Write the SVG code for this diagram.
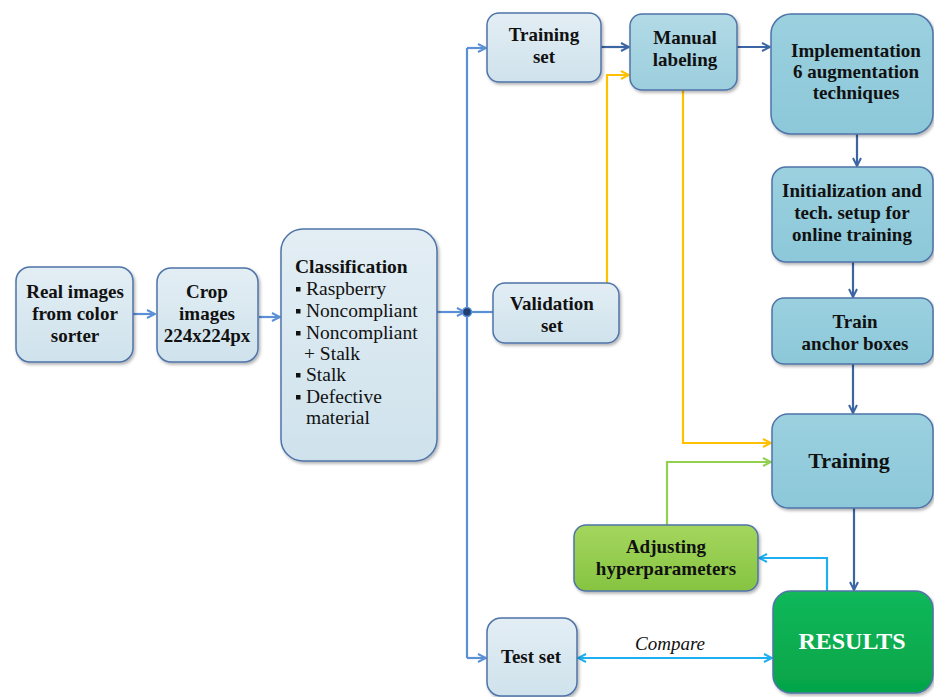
<svg xmlns="http://www.w3.org/2000/svg" width="934" height="697" viewBox="0 0 934 697">
<defs>
<linearGradient id="gLight" x1="0" y1="0" x2="0" y2="1"><stop offset="0" stop-color="#E3EEF4"/><stop offset="1" stop-color="#CFE2EC"/></linearGradient>
<linearGradient id="gMid" x1="0" y1="0" x2="0" y2="1"><stop offset="0" stop-color="#B2DAE6"/><stop offset="1" stop-color="#9CCEDD"/></linearGradient>
<linearGradient id="gTeal" x1="0" y1="0" x2="0" y2="1"><stop offset="0" stop-color="#9BD0DF"/><stop offset="1" stop-color="#8CC8D9"/></linearGradient>
<linearGradient id="gGreen" x1="0" y1="0" x2="0" y2="1"><stop offset="0" stop-color="#A4D65E"/><stop offset="1" stop-color="#86C441"/></linearGradient>
<linearGradient id="gRes" x1="0" y1="0" x2="0" y2="1"><stop offset="0" stop-color="#12B85A"/><stop offset="1" stop-color="#05A448"/></linearGradient>
<filter id="sh" x="-10%" y="-10%" width="125%" height="125%"><feDropShadow dx="1.5" dy="2" stdDeviation="1.5" flood-color="#000" flood-opacity="0.3"/></filter>
<marker id="aB" viewBox="0 0 10 10" refX="9" refY="5" markerWidth="10" markerHeight="10" markerUnits="userSpaceOnUse" orient="auto-start-reverse"><path d="M1,1 L9,5 L1,9" fill="none" stroke="#5B8FD6" stroke-width="2"/></marker>
<marker id="aD" viewBox="0 0 10 10" refX="9" refY="5" markerWidth="10" markerHeight="10" markerUnits="userSpaceOnUse" orient="auto-start-reverse"><path d="M1,1 L9,5 L1,9" fill="none" stroke="#3C65A3" stroke-width="2"/></marker>
<marker id="aY" viewBox="0 0 10 10" refX="9" refY="5" markerWidth="10" markerHeight="10" markerUnits="userSpaceOnUse" orient="auto-start-reverse"><path d="M1,1 L9,5 L1,9" fill="none" stroke="#FFC000" stroke-width="2"/></marker>
<marker id="aG" viewBox="0 0 10 10" refX="9" refY="5" markerWidth="10" markerHeight="10" markerUnits="userSpaceOnUse" orient="auto-start-reverse"><path d="M1,1 L9,5 L1,9" fill="none" stroke="#92D050" stroke-width="2"/></marker>
<marker id="aC" viewBox="0 0 10 10" refX="9" refY="5" markerWidth="10" markerHeight="10" markerUnits="userSpaceOnUse" orient="auto-start-reverse"><path d="M1,1 L9,5 L1,9" fill="none" stroke="#1FAFF0" stroke-width="2"/></marker>
</defs>
<style>
.box{stroke:#4F74A8;stroke-width:1.5;filter:url(#sh)}
.light{fill:url(#gLight)}
.mid{fill:url(#gMid)}
.teal{fill:url(#gTeal)}
.green{fill:url(#gGreen)}
.res{fill:url(#gRes)}
.t{fill:#111}
.b{font-weight:bold;text-anchor:middle}
.it{font-style:italic;text-anchor:middle}
.c{fill:none;stroke-width:2.2}
.blue{stroke:#5B8FD6}
.dark{stroke:#3C65A3}
.yel{stroke:#FFC000}
.grn{stroke:#92D050}
.cy{stroke:#1FAFF0}
</style>
<g font-family="'Liberation Serif', 'DejaVu Serif', serif" font-size="19">
<g id="connectors">
<path class="c blue" d="M133,314 H155" marker-end="url(#aB)"/>
<path class="c blue" d="M259,317 H280" marker-end="url(#aB)"/>
<path class="c blue" d="M437,312 H465" marker-end="url(#aB)"/>
<path class="c blue" d="M467,48 V658"/>
<path class="c blue" d="M467,48 H486" marker-end="url(#aB)"/>
<path class="c blue" d="M467,658 H486" marker-end="url(#aB)"/>
<path class="c blue" d="M467,312 H493"/>
<circle cx="467" cy="312" r="4.5" fill="#1F3F73" stroke="#5B8FD6" stroke-width="1.5"/>
<path class="c dark" d="M601,47 H629" marker-end="url(#aD)"/>
<path class="c dark" d="M737,47 H770" marker-end="url(#aD)"/>
<path class="c dark" d="M857,134 V166" marker-end="url(#aD)"/>
<path class="c dark" d="M853,262 V297" marker-end="url(#aD)"/>
<path class="c dark" d="M853,364 V413" marker-end="url(#aD)"/>
<path class="c dark" d="M854,508 V590" marker-end="url(#aD)"/>
<path class="c yel" d="M607,283 V75 H629" marker-end="url(#aY)"/>
<path class="c yel" d="M683,90 V443 H771" marker-end="url(#aY)"/>
<path class="c grn" d="M667,525 V462 H771" marker-end="url(#aG)"/>
<path class="c cy" d="M827,591 V558 H759" marker-end="url(#aC)"/>
<path class="c cy" d="M578,658 H772" marker-start="url(#aC)" marker-end="url(#aC)"/>
<text class="t it" x="670" y="650">Compare</text>
</g>
<g id="real-images">
<rect class="box light" x="16" y="267" width="117" height="95" rx="14"/>
<text class="t b" x="75" y="298">Real images</text>
<text class="t b" x="75" y="320">from color</text>
<text class="t b" x="75" y="342">sorter</text>
</g>
<g id="crop-images">
<rect class="box light" x="157" y="268" width="101" height="94" rx="14"/>
<text class="t b" x="207" y="298">Crop</text>
<text class="t b" x="207" y="320">images</text>
<text class="t b" x="207" y="342">224x224px</text>
</g>
<g id="classification" font-size="19.5">
<rect class="box light" x="281" y="229" width="156" height="232" rx="22"/>
<text class="t" x="295" y="273" font-weight="bold">Classification</text>
<rect x="296" y="287" width="4.5" height="4.5" fill="#111"/>
<text class="t" x="306" y="295">Raspberry</text>
<rect x="296" y="309" width="4.5" height="4.5" fill="#111"/>
<text class="t" x="306" y="317">Noncompliant</text>
<rect x="296" y="331" width="4.5" height="4.5" fill="#111"/>
<text class="t" x="306" y="339">Noncompliant</text>
<text class="t" x="304" y="360">+ Stalk</text>
<rect x="296" y="373" width="4.5" height="4.5" fill="#111"/>
<text class="t" x="306" y="381">Stalk</text>
<rect x="296" y="395" width="4.5" height="4.5" fill="#111"/>
<text class="t" x="306" y="403">Defective</text>
<text class="t" x="306" y="424">material</text>
</g>
<g id="training-set">
<rect class="box light" x="487" y="13" width="114" height="69" rx="12"/>
<text class="t b" x="544" y="41">Training</text>
<text class="t b" x="544" y="63">set</text>
</g>
<g id="manual-labeling">
<rect class="box mid" x="630" y="14" width="107" height="76" rx="12"/>
<text class="t b" x="685" y="44">Manual</text>
<text class="t b" x="685" y="66">labeling</text>
</g>
<g id="implementation">
<rect class="box teal" x="771" y="14" width="162" height="120" rx="20"/>
<text class="t b" x="856" y="57">Implementation</text>
<text class="t b" x="856" y="78">6 augmentation</text>
<text class="t b" x="856" y="99">techniques</text>
</g>
<g id="validation-set">
<rect class="box light" x="493" y="283" width="126" height="60" rx="12"/>
<text class="t b" x="552" y="310">Validation</text>
<text class="t b" x="552" y="332">set</text>
</g>
<g id="initialization">
<rect class="box teal" x="772" y="167" width="161" height="95" rx="14"/>
<text class="t b" x="852" y="197">Initialization and</text>
<text class="t b" x="852" y="219">tech. setup for</text>
<text class="t b" x="852" y="241">online training</text>
</g>
<g id="train-anchor-boxes">
<rect class="box teal" x="772" y="298" width="161" height="66" rx="12"/>
<text class="t b" x="855" y="328">Train</text>
<text class="t b" x="855" y="350">anchor boxes</text>
</g>
<g id="training">
<rect class="box teal" x="772" y="414" width="161" height="94" rx="16"/>
<text class="t b" x="849" y="468" font-size="22">Training</text>
</g>
<g id="adjusting">
<rect class="box green" x="574" y="525" width="184" height="66" rx="12"/>
<text class="t b" x="666" y="553">Adjusting</text>
<text class="t b" x="666" y="575">hyperparameters</text>
</g>
<g id="test-set">
<rect class="box light" x="487" y="618" width="90" height="78" rx="14"/>
<text class="t b" x="531" y="663">Test set</text>
</g>
<g id="results">
<rect class="box res" x="773" y="591" width="160" height="102" rx="18"/>
<text class="b" x="852" y="649" font-size="24" fill="#fff">RESULTS</text>
</g>
</g>
</svg>
